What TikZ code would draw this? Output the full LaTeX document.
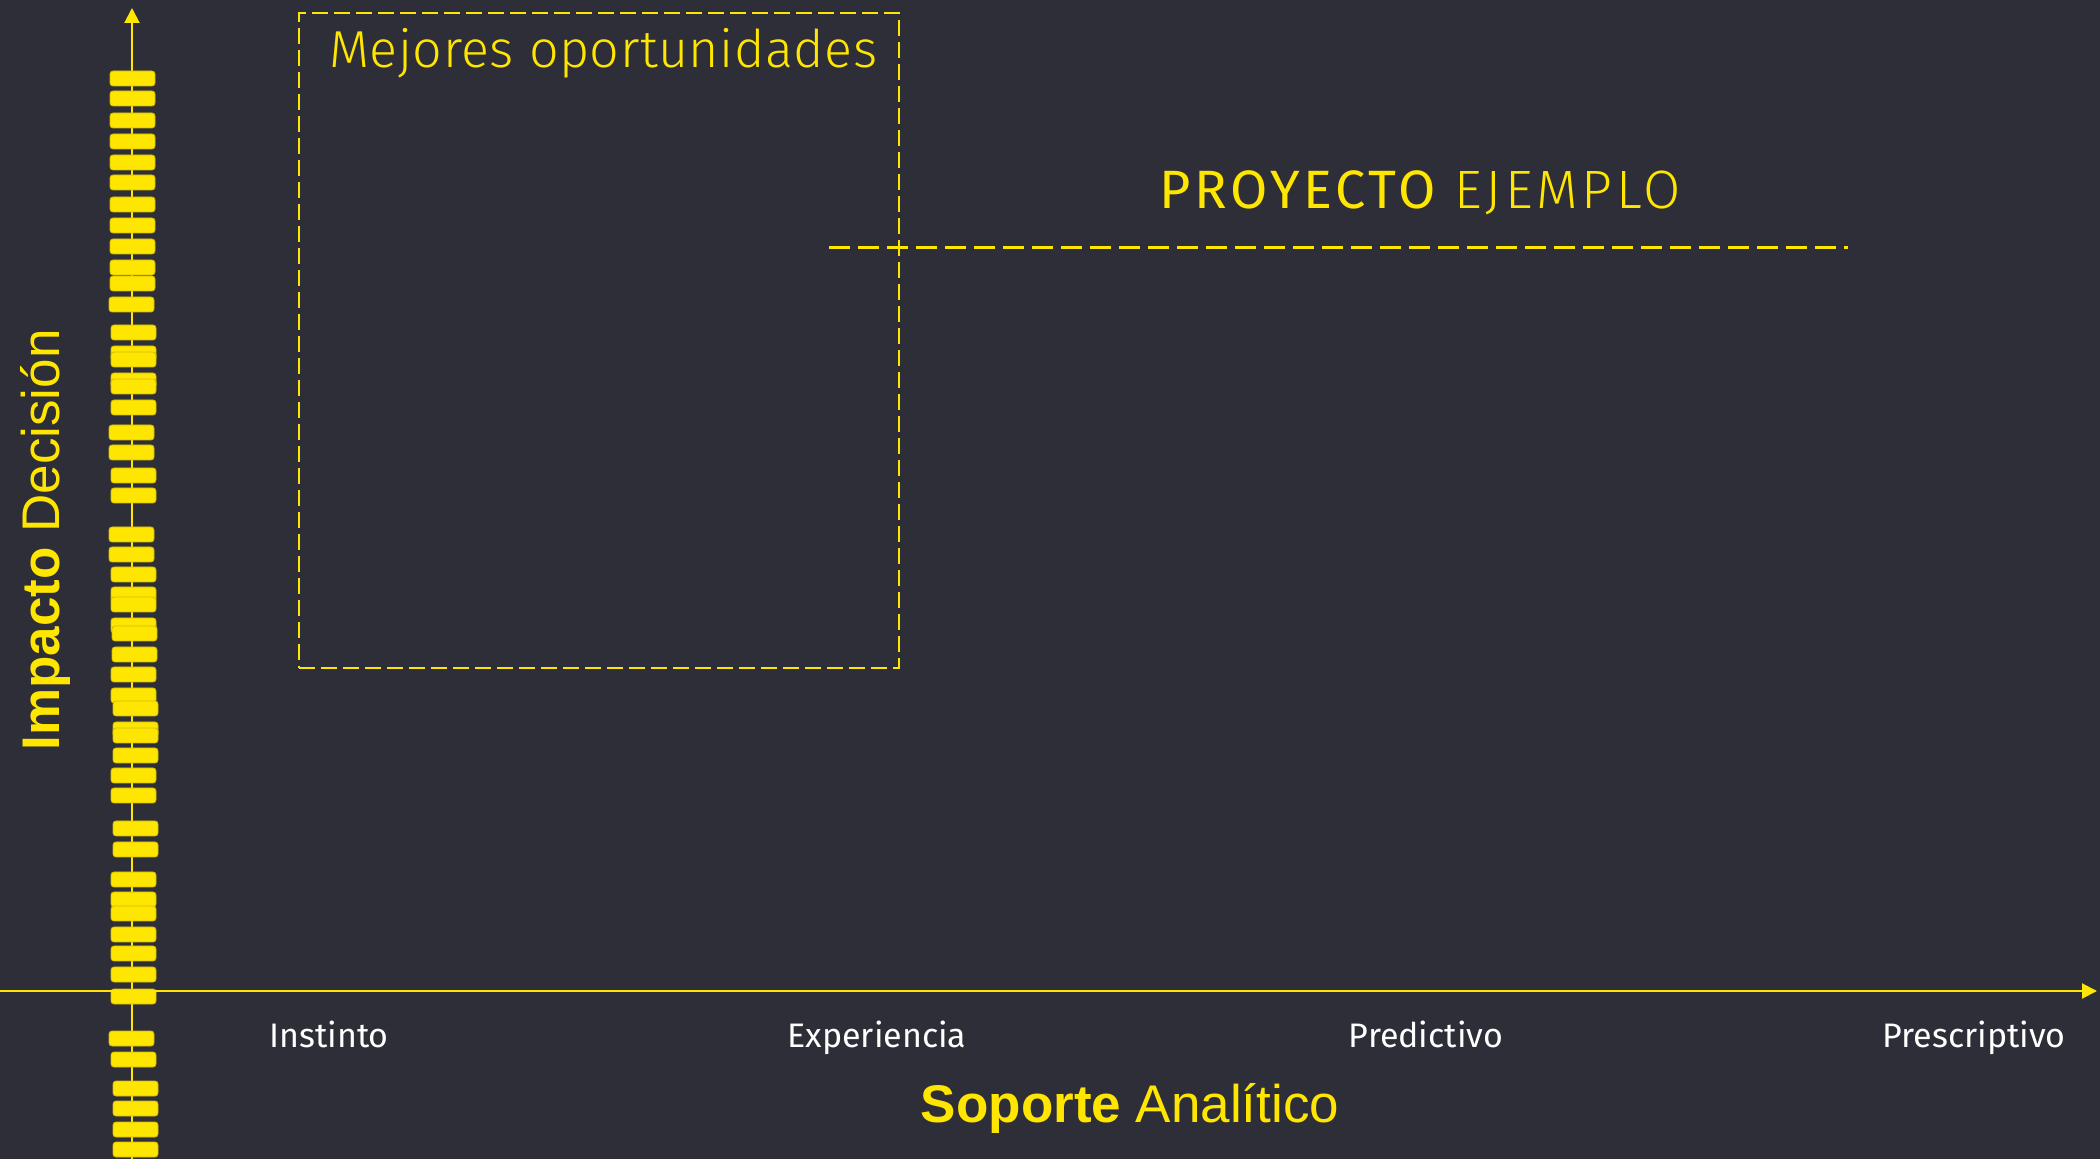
\documentclass[tikz,border=0pt]{standalone}
\usepackage{fontspec}
\setmainfont{Fira Sans}
\newfontfamily\arialfont{Liberation Sans}
\newfontfamily\lightfont{Fira Sans Light}
\newfontfamily\projfont[LetterSpace=7]{Fira Sans}
\newfontfamily\projlightfont[LetterSpace=7]{Fira Sans Light}
\usetikzlibrary{arrows.meta}
\definecolor{bg}{HTML}{2E2E38}
\definecolor{eyy}{HTML}{FFE600}
\tikzset{
  axis/.style={draw=eyy, line width=1pt, -{Triangle[width=7.5pt,length=7.5pt]}},
  bar/.style={fill=eyy, draw=eyy!82!black, line width=0.4pt, rounded corners=1.5pt},
  oppbox/.style={draw=eyy, line width=1pt, dash pattern=on 8pt off 3pt, inner sep=0pt, anchor=north west},
  projline/.style={draw=eyy, line width=1.5pt, dash pattern=on 10.5pt off 4pt},
  titletext/.style={text=eyy, font=\lightfont\fontsize{26}{30}\selectfont, inner sep=0pt},
  axislabel/.style={text=white, font=\fontsize{17}{20}\selectfont, inner sep=0pt, anchor=base},
  axistitle/.style={text=eyy, font=\arialfont\fontsize{26.5}{30}\selectfont, inner sep=0pt, anchor=base},
}
\begin{document}
\begin{tikzpicture}[x=0.5pt,y=-0.5pt]
\fill[bg] (0,0) rectangle (2100,1159);
\useasboundingbox (0,0) rectangle (2100,1159);
% vertical axis
\coordinate (ybot) at (132,1159);
\coordinate (ytop) at (132,8);
\draw[axis] (ybot) -- (ytop);
% bars
\foreach \bx/\by in {110/71,110/91,110/113,110/134,110/155,110/175,110/197,110/218,110/239,110/260,110/276,
  109/297,111/325,111/346,111/352,111/373,111/379,111/400,109/425,109/445,111/468,111/488,109/527,109/547,
  111/567,111/587,111/597,111/618,112/626,112/647,111/667,111/688,113/701,113/722,113/728,113/748,111/768,
  111/788,113/821,113/842,111/872,111/892,111/906,111/927,111/946,111/967,111/989,109/1031,111/1052,
  113/1081,113/1101,113/1122,113/1142}
  \draw[bar] (\bx,\by) rectangle ++(45,15);
% horizontal axis
\coordinate (xleft) at (0,991);
\coordinate (xright) at (2097,991);
\draw[axis] (xleft) -- (xright);
% opportunity box
\node[oppbox, minimum width=300pt, minimum height=327.5pt] (box) at (298,12) {};
\node[titletext, anchor=base west] (mej) at (329,68) {\addfontfeature{LetterSpace=1}Mejores oportunidades};
% project line
\coordinate (pl) at (829,248);
\coordinate (pr) at (1848,248);
\draw[projline] (pl) -- (pr);
\node[text=eyy, inner sep=0pt, anchor=base, font=\projfont\fontsize{27}{30}\selectfont] (proj) at (1420,209) {PROYECTO {\projlightfont EJEMPLO}};
% axis labels
\node[axislabel] (l1) at (329,1047) {Instinto};
\node[axislabel] (l2) at (877,1047) {Experiencia};
\node[axislabel] (l3) at (1426,1047) {Predictivo};
\node[axislabel] (l4) at (1974,1047) {Prescriptivo};
\node[axistitle] (xt) at (1130,1122) {\textbf{Soporte} Analítico};
\node[axistitle, rotate=90] (yt) at (59,540) {\textbf{Impacto} Decisión};
\end{tikzpicture}
\end{document}
